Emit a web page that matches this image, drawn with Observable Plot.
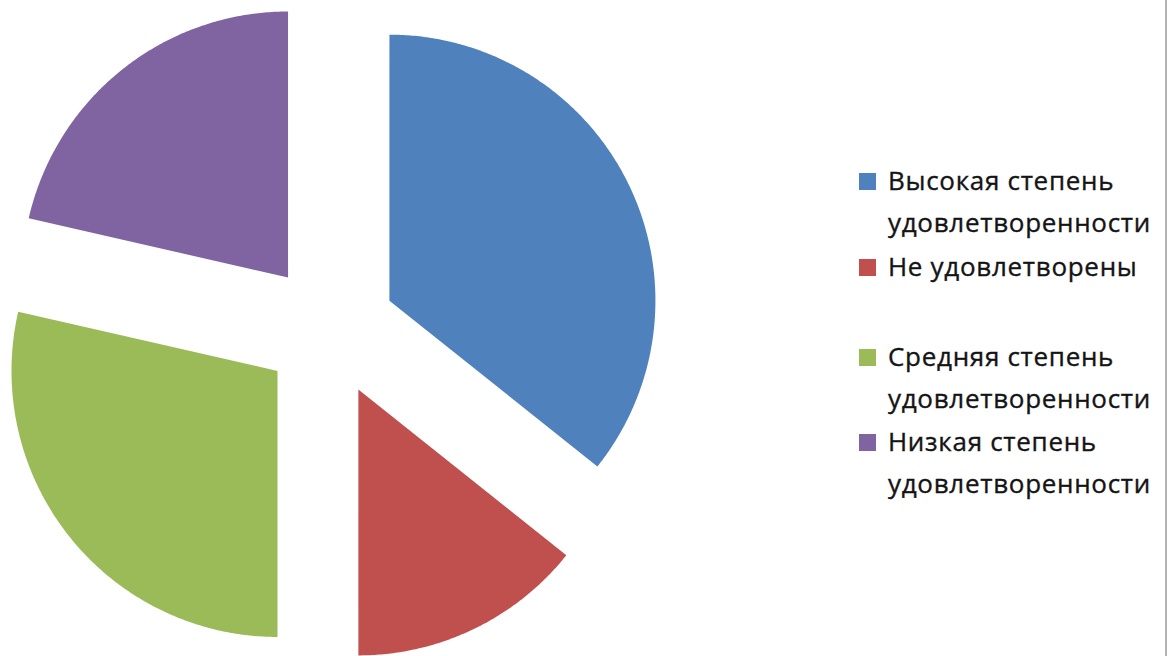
<!DOCTYPE html>
<html>
<head>
<meta charset="utf-8">
<script src="https://cdn.jsdelivr.net/npm/d3@7"></script>
<script src="https://cdn.jsdelivr.net/npm/@observablehq/plot@0.6"></script>
<style>
  html, body { margin: 0; padding: 0; background: #fff; }
  #wrap { position: relative; width: 1174px; height: 656px; overflow: hidden; }
  #chart, #legend { position: absolute; left: 0; top: 0; }
  #frame { position: absolute; left: 1165px; top: 0; width: 2px; height: 656px; background: #b4b4b4; }
</style>
</head>
<body>
<div id="wrap"><div id="chart"></div><svg id="legend" width="1174" height="656"></svg><div id="frame"></div></div>
<script>
const categories = [
  "Высокая степень удовлетворенности",
  "Не удовлетворены",
  "Средняя степень удовлетворенности",
  "Низкая степень удовлетворенности"
];
const values = [5, 2, 4, 3];
const colors = ["#4F81BD", "#C0504D", "#9BBB59", "#8064A2"];
const legendLines = [
  ["Высокая степень", "удовлетворенности"],
  ["Не удовлетворены"],
  ["Средняя степень", "удовлетворенности"],
  ["Низкая степень", "удовлетворенности"]
];
const explode = 0.25;

// Build slice outlines (unit radius, y up) from the values
const arcs = d3.pie().sort(null).value(d => d.value)(categories.map((c, i) => ({category: c, value: values[i]})));
const pts = [];
arcs.forEach(a => {
  const mid = (a.startAngle + a.endAngle) / 2;
  const ox = explode * Math.sin(mid), oy = explode * Math.cos(mid);
  const cat = a.data.category;
  pts.push({category: cat, x: ox, y: oy});
  const n = Math.max(2, Math.ceil((a.endAngle - a.startAngle) / (Math.PI / 360)));
  for (let k = 0; k <= n; k++) {
    const t = a.startAngle + (a.endAngle - a.startAngle) * k / n;
    pts.push({category: cat, x: ox + Math.sin(t), y: oy + Math.cos(t)});
  }
  pts.push({category: cat, x: ox, y: oy});
});

const W = 1174, H = 656, cx = 329, cy = 329, R = 266;
const chart = Plot.plot({
  width: W, height: H, margin: 0,
  x: {domain: [-cx / R, (W - cx) / R], axis: null},
  y: {domain: [(cy - H) / R, cy / R], axis: null},
  color: {domain: categories, range: colors},
  marks: [
    Plot.line(pts, {x: "x", y: "y", z: "category", fill: "category", stroke: null, curve: "linear"})
  ]
});
document.getElementById("chart").appendChild(chart);

// Legend
const lg = d3.select("#legend");
const baselines = [[190, 232], [276], [366, 408], [451, 493]];
legendLines.forEach((lines, i) => {
  lg.append("rect").attr("x", 859).attr("y", baselines[i][0] - 17).attr("width", 17).attr("height", 17).attr("fill", colors[i]);
  lines.forEach((t, j) => {
    lg.append("text").attr("x", 888).attr("y", baselines[i][j])
      .attr("font-family", "Open Sans, sans-serif").attr("font-size", 26)
      .attr("letter-spacing", "0.7px")
      .attr("fill", "#141414").attr("stroke", "#141414").attr("stroke-width", 0.35)
      .text(t);
  });
});
</script>
</body>
</html>
